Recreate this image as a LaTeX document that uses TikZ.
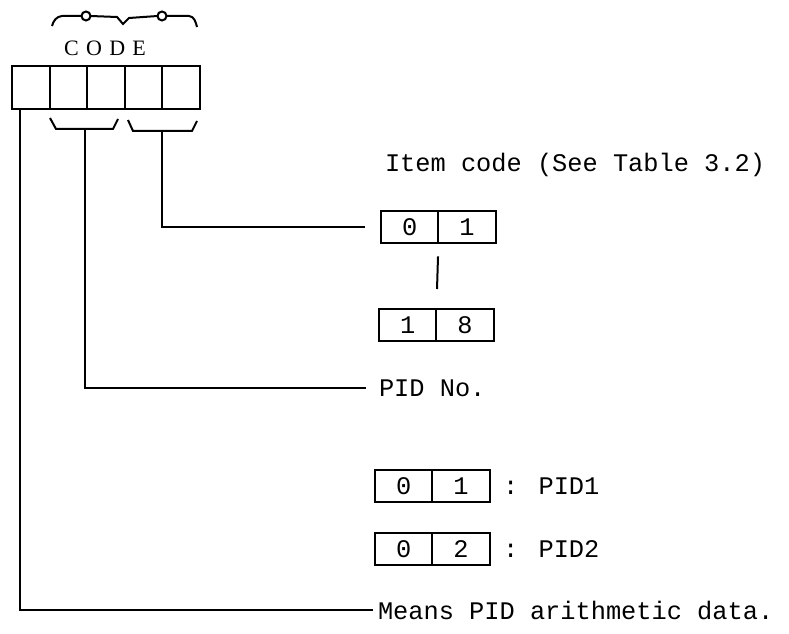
\documentclass[tikz,border=0pt]{standalone}
\usepackage{fontspec}
\newfontfamily\typefont{Liberation Mono}
\newfontfamily\codefont{Liberation Serif}
\usetikzlibrary{positioning}

\begin{document}
\begin{tikzpicture}[x=0.75pt, y=-0.75pt, line width=1.5pt,
  cell/.style={draw, outer sep=0pt, inner sep=0pt, minimum width=43pt, minimum height=24pt, font=\typefont\fontsize{19}{22}\selectfont},
  note/.style={outer sep=0pt, inner sep=0pt, font=\typefont\fontsize{19}{22}\selectfont}]
\useasboundingbox (0, 0) rectangle (789, 634);

% code word and its field marks
\node[font=\codefont\fontsize{16.5}{18}\selectfont] (code) at (105, 48) {C\hspace{5.5pt}O\hspace{5.5pt}D\hspace{5.5pt}E};
\draw (52, 26) to[out=75, in=185] (62, 16) -- (81.5, 16);
\draw (90.5, 16) -- (117, 17) -- (123, 24) -- (129, 18) -- (157.5, 16);
\draw (166.5, 16) -- (189, 16) to[out=-5, in=105] (197, 27);
\draw (86, 16) circle (4.5);
\draw (162, 16) circle (4.5);

\draw (12, 66) rectangle (49.6, 109);
\draw (49.6, 66) rectangle (87.2, 109);
\draw (87.2, 66) rectangle (124.8, 109);
\draw (124.8, 66) rectangle (162.4, 109);
\draw (162.4, 66) rectangle (200, 109);

\draw (50, 118) -- (56, 129) -- (113, 129) -- (118, 119);
\draw (128, 120) -- (133, 131) -- (192, 131) -- (197, 121);

\coordinate (stem0) at (20, 110);
\coordinate (stem1) at (85, 129);
\coordinate (stem2) at (162, 131);

% item code
\node[note, anchor=base west] (itemtxt) at (385, 172) {Item code (See Table 3.2)};
\node[cell] (item0) at (409.75, 227) {0};
\node[cell, right=0pt of item0] (item1) {1};
\node[cell] (last0) at (407.75, 325) {1};
\node[cell, right=0pt of last0] (last1) {8};
\draw[shorten <=10pt, shorten >=15pt] (item0.south east) -- (last0.north east);

% PID number
\node[note, anchor=west] (pidno) at (379, 388) {PID No.};
\node[cell] (pid1a) at (403.75, 486) {0};
\node[cell, right=0pt of pid1a] (pid1b) {1};
\node[note, right=10pt of pid1b] (pid1txt) {: PID1};
\node[cell] (pid2a) at (403.75, 549) {0};
\node[cell, right=0pt of pid2a] (pid2b) {2};
\node[note, right=10pt of pid2b] (pid2txt) {: PID2};

\node[note, anchor=west] (means) at (378, 610) {Means PID arithmetic data.};

\draw[shorten >=12pt] (stem2) |- (item0.west);
\draw[shorten >=10pt] (stem1) |- (pidno.west);
\draw[shorten >=4pt] (stem0) |- (means.west);

\end{tikzpicture}
\end{document}
